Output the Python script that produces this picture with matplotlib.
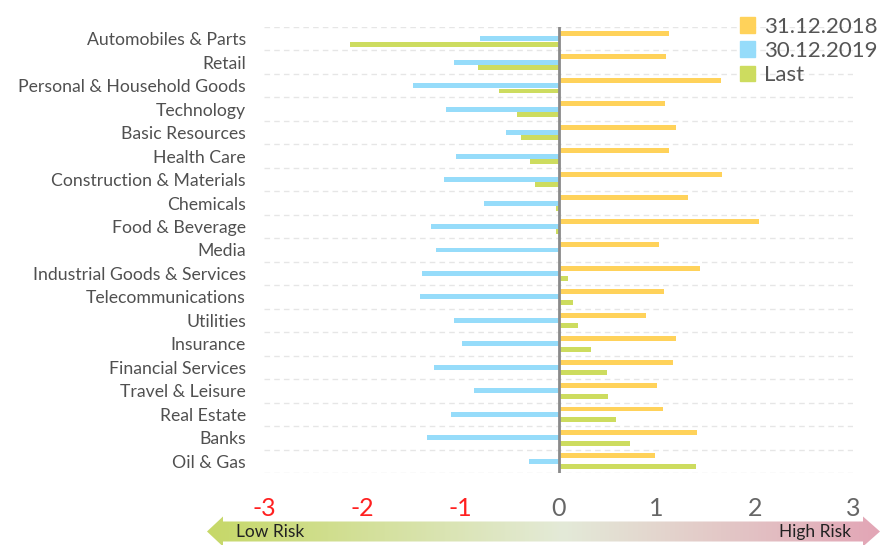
import matplotlib
matplotlib.use("Agg")
import matplotlib.pyplot as plt
import numpy as np
from matplotlib.patches import Patch, Polygon
from matplotlib.colors import LinearSegmentedColormap

categories = ["Automobiles & Parts", "Retail", "Personal & Household Goods", "Technology",
              "Basic Resources", "Health Care", "Construction & Materials", "Chemicals",
              "Food & Beverage", "Media", "Industrial Goods & Services", "Telecommunications",
              "Utilities", "Insurance", "Financial Services", "Travel & Leisure",
              "Real Estate", "Banks", "Oil & Gas"]
s2018 = [1.13, 1.10, 1.66, 1.08, 1.20, 1.13, 1.67, 1.32, 2.04, 1.02, 1.44, 1.07,
         0.89, 1.20, 1.17, 1.00, 1.06, 1.41, 0.98]
s2019 = [-0.80, -1.06, -1.48, -1.15, -0.53, -1.04, -1.17, -0.76, -1.30, -1.25, -1.39, -1.41,
         -1.06, -0.98, -1.27, -0.86, -1.10, -1.34, -0.30]
last = [-2.12, -0.82, -0.61, -0.42, -0.38, -0.29, -0.24, -0.03, -0.03, 0.02, 0.10, 0.15,
        0.20, 0.33, 0.49, 0.50, 0.59, 0.73, 1.40]
series_labels = ["31.12.2018", "30.12.2019", "Last"]
xticks = [-3, -2, -1, 0, 1, 2, 3]

c_or = "#FFD25A"
c_bl = "#96DCFA"
c_gr = "#CDDC5F"
font = "Lato"
plt.rcParams['font.family'] = [font, 'DejaVu Sans']

fig = plt.figure(figsize=(8.83, 5.45), dpi=100)
ax = fig.add_axes([264/883, 1-473/545, (853-264)/883, (473-27)/545])

y = np.arange(len(categories))
h = 0.21
off = 0.226
ax.barh(y - off, s2018, height=h, color=c_or, zorder=3)
ax.barh(y, s2019, height=h, color=c_bl, zorder=3)
ax.barh(y + off, last, height=h, color=c_gr, zorder=3)

for b in np.arange(-0.5, len(categories), 1.0):
    ax.axhline(b, color="#e6e6e6", lw=1, ls=(0, (4, 3)), zorder=1)
ax.axvline(0, color="#8a8a8a", lw=2, zorder=4)

ax.set_xlim(-3, 3)
ax.set_ylim(len(categories) - 0.5, -0.5)
for s in ax.spines.values():
    s.set_visible(False)
ax.set_yticks(y)
ax.set_yticklabels(categories, fontsize=12.7, color="#505050")
ax.set_xticks(xticks)
ax.set_xticklabels([str(t) for t in xticks], fontsize=18)
for lbl, t in zip(ax.get_xticklabels(), xticks):
    lbl.set_color("#ff2020" if t < 0 else "#666666")
ax.tick_params(axis='y', length=0, pad=13)
ax.tick_params(axis='x', length=0, pad=17)

handles = [Patch(color=c) for c in (c_or, c_bl, c_gr)]
fig.legend(handles, series_labels, loc="upper left", bbox_to_anchor=(724/883, 1 - 1/545),
           frameon=False, prop={"size": 16},
           handlelength=0.7, handleheight=0.7,
           handletextpad=0.4, labelspacing=0.2, labelcolor="#555555", borderpad=0.2)

# bottom risk arrow
aax = fig.add_axes([0, 0, 1, 1], zorder=-1)
aax.set_xlim(0, 883)
aax.set_ylim(545, 0)
aax.axis("off")
cmap = LinearSegmentedColormap.from_list("risk", [(0, "#c6d868"), (0.53, "#e4ead8"), (1, "#e2a6b6")])
grad = np.linspace(0, 1, 400).reshape(1, -1)
im = aax.imshow(grad, cmap=cmap, extent=[207, 880, 546, 516], aspect="auto")
poly = Polygon([[207, 531.5], [223, 516.5], [223, 521.5], [863, 521.5], [863, 516.5],
                [880, 531.5], [863, 546.5], [863, 541.5], [223, 541.5], [223, 546.5]],
               closed=True, transform=aax.transData, facecolor="none", edgecolor="none")
aax.add_patch(poly)
im.set_clip_path(poly)
aax.text(236, 532, "Low Risk", fontsize=12.5, color="#222222", ha="left", va="center")
aax.text(851, 532, "High Risk", fontsize=12.5, color="#222222", ha="right", va="center")

fig.savefig("out.png", dpi=100)
